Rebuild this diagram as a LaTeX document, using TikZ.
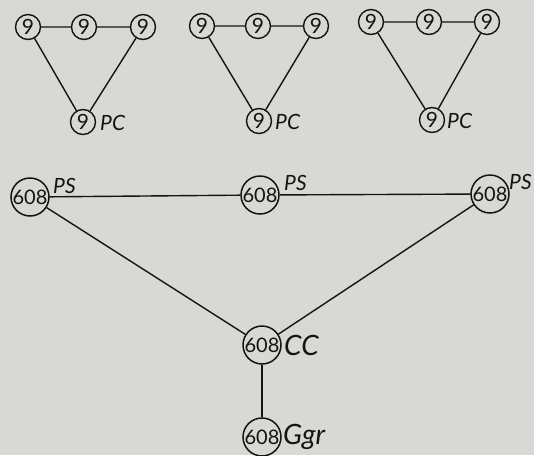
\documentclass[tikz,border=0pt]{standalone}
\usepackage{fontspec}
\setmainfont{Lato}
\definecolor{paper}{RGB}{216,216,213}
\definecolor{ink}{RGB}{20,20,20}
\begin{document}
\begin{tikzpicture}[x=1pt,y=-1pt,
  small/.style={circle, draw=ink, line width=1.4pt, minimum size=25pt, inner sep=0pt, text=ink, font=\fontsize{21}{21}\selectfont},
  big/.style={circle, draw=ink, line width=1.5pt, minimum size=38pt, inner sep=0pt, text=ink, font=\fontsize{20}{20}\selectfont},
  lab/.style={anchor=west, inner sep=0pt, text=ink, font=\itshape\fontsize{21}{21}\selectfont},
  biglab/.style={anchor=west, inner sep=0pt, text=ink, font=\itshape\fontsize{28}{28}\selectfont},
  link/.style={draw=ink, line width=1.4pt}]
\fill[paper] (0,0) rectangle (534,455);
\useasboundingbox (0,0) rectangle (534,455);
% triangle 1
\node[small] (a1) at (28,27) {9};
\node[small] (a2) at (84,27) {9};
\node[small] (a3) at (143,27) {9};
\node[small] (a4) at (83,122) {9};
\node[lab] (la) at (100,123) {PC};
\draw[link] (a1) -- (a2) -- (a3) -- (a4) -- (a1);
% triangle 2
\node[small] (b1) at (202,26) {9};
\node[small] (b2) at (258,26) {9};
\node[small] (b3) at (316,26) {9};
\node[small] (b4) at (259,121) {9};
\node[lab] (lb) at (275,122) {PC};
\draw[link] (b1) -- (b2) -- (b3) -- (b4) -- (b1);
% triangle 3
\node[small] (c1) at (371,22) {9};
\node[small] (c2) at (429,22) {9};
\node[small] (c3) at (487,22) {9};
\node[small] (c4) at (432,120) {9};
\node[lab] (lc) at (447,121) {PC};
\draw[link] (c1) -- (c2) -- (c3) -- (c4) -- (c1);
% bottom network
\node[big] (p1) at (30,197) {608};
\node[big] (p2) at (260,195) {608};
\node[big] (p3) at (490,194) {608};
\node[big] (cc) at (262,345) {608};
\node[big] (gg) at (262,437) {608};
\node[lab] (l1) at (53,186) {PS};
\node[lab] (l2) at (284,183) {PS};
\node[lab] (l3) at (509,182) {PS};
\node[biglab] (l4) at (284,345) {CC};
\node[biglab] (l5) at (283,437) {Ggr};
\draw[link] (p1) -- (p2) -- (p3);
\draw[link] (p1) -- (cc);
\draw[link] (p3) -- (cc);
\draw[link] (cc) -- (gg);
\end{tikzpicture}
\end{document}
